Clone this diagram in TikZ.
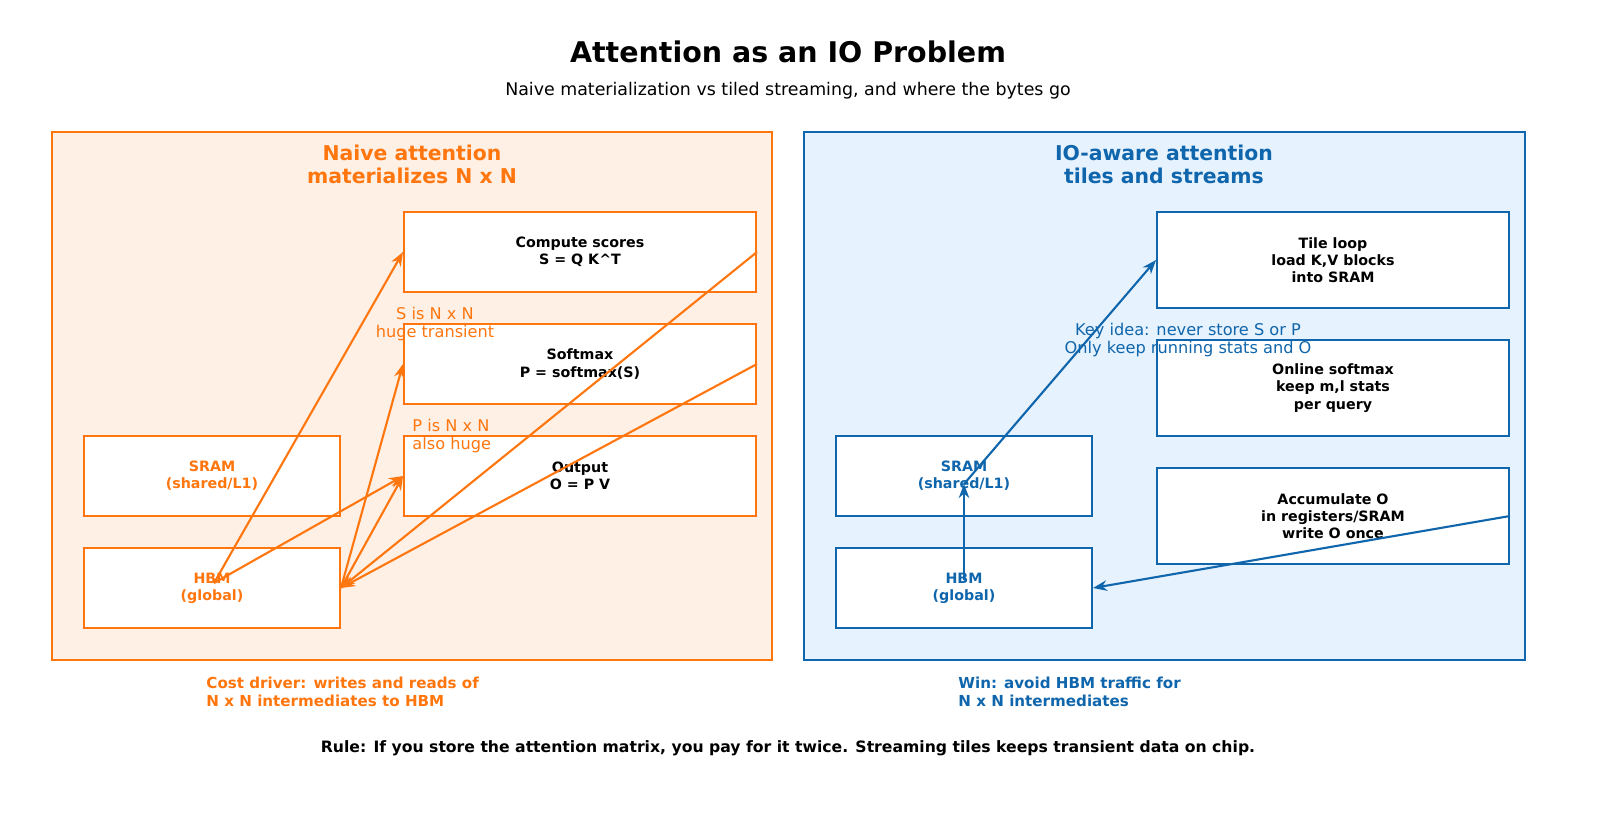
\documentclass[tikz,border=0pt]{standalone}
\usepackage{fontspec}
\setmainfont{DejaVu Sans}
\usetikzlibrary{arrows.meta}
\definecolor{naive}{RGB}{255,118,14}
\definecolor{naivefill}{RGB}{254,240,229}
\definecolor{aware}{RGB}{16,102,172}
\definecolor{awarefill}{RGB}{230,242,253}
\tikzset{
  box/.style={draw, fill=white, line width=0.5pt, minimum width=3.52cm, minimum height=0.8cm, align=center, font=\fontsize{4.05}{4.9}\selectfont\bfseries},
  mem/.style={box, minimum width=2.56cm},
  note/.style={align=center, font=\fontsize{4.6}{5.3}\selectfont},
  flow/.style={-{Stealth[length=4pt]}, semithick}
}
\begin{document}
\begin{tikzpicture}[x=0.01cm, y=-0.01cm]
    \useasboundingbox (0,0) rectangle (1600,821);

    \node[font=\fontsize{8.1}{9}\selectfont\bfseries] (title) at (788,52) {Attention as an IO Problem};
    \node[note, font=\fontsize{4.95}{6}\selectfont] (subtitle) at (788,91) {Naive materialization vs tiled streaming, and where the bytes go};

    % naive panel
    \draw[naive, fill=naivefill, line width=0.8pt] (52,132) rectangle (772,660);
    \node[naive, note, font=\fontsize{5.8}{6.6}\selectfont\bfseries] (ltitle) at (412,164) {Naive attention\\materializes N x N};
    \begin{scope}[every node/.style={box, draw=naive}]
        \node (scores) at (580,252) {Compute scores\\S = Q K\^{}T};
        \node (softmax) at (580,364) {Softmax\\P = softmax(S)};
        \node (output) at (580,476) {Output\\O = P V};
    \end{scope}
    \node[mem, draw=naive, text=naive] (lsram) at (212,476) {SRAM\\(shared/L1)};
    \node[mem, draw=naive, text=naive] (lhbm) at (212,588) {HBM\\(global)};
    \coordinate (lhbmc) at (214,583);
    \node[note, naive] (snote) at (435,324) {S is N x N\\huge transient};
    \node[note, naive, align=left, anchor=west] (pnote) at (400,436) {P is N x N\\also huge};

    \draw[naive, flow] (lhbmc) -- (scores.west);
    \draw[naive, flow] (lhbmc) -- (output.west);
    \draw[naive, flow] (lhbm.east) -- (softmax.west);
    \draw[naive, flow] (lhbm.east) -- (output.west);
    \draw[naive, flow] (scores.east) -- (lhbm.east);
    \draw[naive, flow] (softmax.east) -- (lhbm.east);

    % io-aware panel
    \draw[aware, fill=awarefill, line width=0.8pt] (804,132) rectangle (1525,660);
    \node[aware, note, font=\fontsize{5.8}{6.6}\selectfont\bfseries] (rtitle) at (1164,164) {IO-aware attention\\tiles and streams};
    \begin{scope}[every node/.style={box, draw=aware, minimum height=0.96cm}]
        \node (tile) at (1333,260) {Tile loop\\load K,V blocks\\into SRAM};
        \node (online) at (1333,388) {Online softmax\\keep m,l stats\\per query};
        \node (accum) at (1333,516) {Accumulate O\\in registers/SRAM\\write O once};
    \end{scope}
    \node[mem, draw=aware, text=aware] (rsram) at (964,476) {SRAM\\(shared/L1)};
    \node[mem, draw=aware, text=aware] (rhbm) at (964,588) {HBM\\(global)};
    \coordinate (rhbmc) at (964,580);
    \coordinate (rsramc) at (964,484);
    \node[note, aware] (keyidea) at (1188,340) {Key idea: never store S or P\\Only keep running stats and O};

    \draw[aware, flow] (rhbmc) -- (rsramc);
    \draw[aware, flow] (rsramc) -- (tile.west);
    \draw[aware, flow] (accum.east) -- (rhbm.east);

    % notes
    \node[naive, note, align=left, anchor=west, font=\fontsize{4.3}{5.2}\selectfont\bfseries] (cost) at (194,692) {Cost driver: writes and reads of\\N x N intermediates to HBM};
    \node[aware, note, align=left, anchor=west, font=\fontsize{4.3}{5.2}\selectfont\bfseries] (win) at (946,692) {Win: avoid HBM traffic for\\N x N intermediates};
    \node[font=\fontsize{4.45}{5.4}\selectfont\bfseries] (rule) at (788,748) {Rule: If you store the attention matrix, you pay for it twice. Streaming tiles keeps transient data on chip.};
\end{tikzpicture}
\end{document}
